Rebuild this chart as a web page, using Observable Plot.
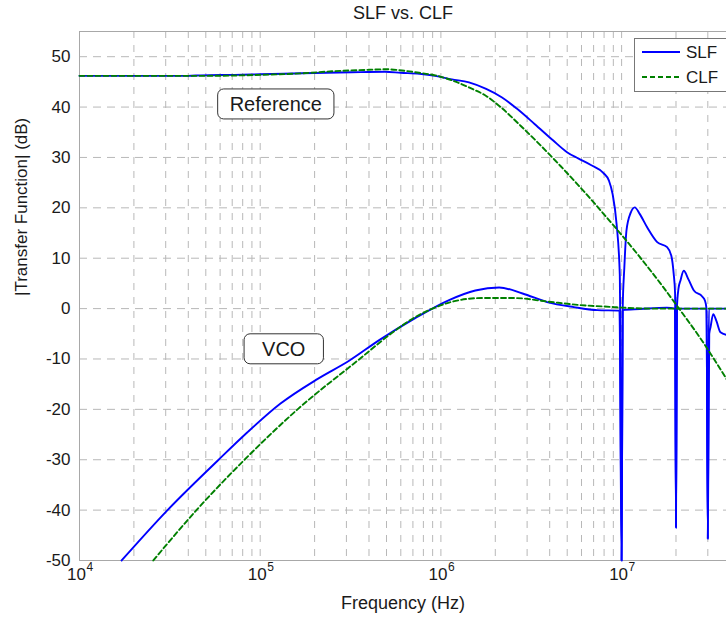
<!DOCTYPE html>
<html><head><meta charset="utf-8">
<script src="https://cdn.jsdelivr.net/npm/d3@7"></script>
<script src="https://cdn.jsdelivr.net/npm/@observablehq/plot@0.6"></script>
<style>
body{margin:0;background:#fff;}
#wrap{width:726px;height:622px;overflow:hidden;position:relative;background:#fff;}
</style></head><body><div id="wrap"></div>
<script>
// ---- data (frequency in Hz, magnitude in dB) ----
const refSlfFreq = [1.0e4,4.0e4,4.7e4,7.2e4,1.0e5,1.7e5,3.2e5,4.9e5,6.0e5,7.6e5,9.3e5,1.15e6,1.43e6,1.78e6,2.18e6,2.63e6,3.31e6,4.17e6,5.01e6,5.75e6,6.76e6,7.94e6,8.51e6,8.91e6,9.38e6,9.77e6,1.0e7,1.014e7,1.035e7,1.064e7,1.122e7,1.183e7,1.259e7,1.387e7,1.574e7,1.786e7,1.884e7,1.941e7,1.977e7,2.0e7,2.023e7,2.065e7,2.118e7,2.208e7,2.344e7,2.512e7,2.793e7,2.891e7,2.951e7,3.0e7,3.055e7,3.105e7,3.214e7,3.35e7,3.524e7,3.80e7];
const refSlfDb   = [46.2,46.2,46.3,46.4,46.5,46.7,46.9,47.0,46.8,46.6,46.2,45.5,44.9,43.6,41.9,39.7,36.6,33.4,31.0,29.8,28.5,26.9,25.4,22.8,16.8,6.8,-50,0,8,15.5,19.0,20.1,18.8,16.1,13.2,12.2,10.5,7,3,-43.5,0,4,5.6,7.5,5.8,3.6,2.4,1.6,0,-45.7,-5,-3.7,-1.1,-2.5,-4.7,-5.2];

const refClfFreq = [1.0e4,5.0e4,1.0e5,1.7e5,2.5e5,4.0e5,5.0e5,6.3e5,7.9e5,9.3e5,1.15e6,1.43e6,1.78e6,2.14e6,2.76e6,3.56e6,4.59e6,5.93e6,7.65e6,9.85e6,1.27e7,1.64e7,2.04e7,2.73e7,3.81e7];
const refClfDb   = [46.2,46.2,46.4,46.7,47.1,47.4,47.5,47.2,46.7,46.3,45.3,43.9,42.2,40.0,36.3,32.4,28.3,24.0,19.5,14.9,10.1,5.0,0.4,-5.9,-14.0];

const vcoSlfFreq = [1.71e4,3.07e4,5.81e4,8.47e4,1.29e5,2.07e5,3.12e5,4.58e5,7.13e5,1.11e6,1.55e6,2.10e6,2.83e6,3.87e6,5.44e6,7.33e6,9.73e6,1.0e7,1.014e7,1.259e7,1.778e7,1.972e7,2.0e7,2.028e7,2.512e7,2.951e7,3.0e7,3.04e7,3.80e7];
const vcoSlfDb   = [-50,-40.0,-30.2,-24.6,-18.9,-14.0,-10.3,-6.2,-2.0,1.7,3.6,4.2,3.0,1.3,0.3,-0.3,-0.4,-50,-0.3,-0.1,0.2,0,-43.5,0,0,0,-45.7,0,0];

const vcoClfFreq = [2.56e4,4.44e4,8.19e4,1.61e5,3.55e5,5.47e5,7.13e5,8.99e5,1.11e6,1.68e6,2.53e6,3.87e6,5.92e6,9.06e6,1.0e7,1.5e7,3.80e7];
const vcoClfDb   = [-50,-40.0,-30.0,-20.0,-10.0,-4.6,-1.8,0,1.2,2.1,2.1,1.4,0.7,0.3,0.2,0,0];

const annotLabels = ["Reference","VCO"];
const annotFreq   = [1.22e5, 1.35e5];
const annotDb     = [40.5, -8.1];

const seriesNames = ["SLF","CLF"];
const xDecades = [1e4,1e5,1e6,1e7];
const xMinor = [2,3,4,5,6,7,8,9].flatMap(m => [1e4,1e5,1e6,1e7].map(d => m*d));
const yTicks = [-50,-40,-30,-20,-10,0,10,20,30,40,50];
const titleText = "SLF vs. CLF";
const xLabel = "Frequency (Hz)";
const yLabel = "|Transfer Function| (dB)";

// ---- tables ----
const toRows = (f, v) => f.map((x, i) => ({f: x, db: v[i]}));
const refSlf = toRows(refSlfFreq, refSlfDb);
const refClf = toRows(refClfFreq, refClfDb);
const vcoSlf = toRows(vcoSlfFreq, vcoSlfDb);
const vcoClf = toRows(vcoClfFreq, vcoClfDb);
const annots = annotLabels.map((t, i) => ({label: t, f: annotFreq[i], db: annotDb[i]}));

const BLUE = "#0000ff", GREEN = "#008000", GRID = "#b8b8b8", FONT = "'Liberation Sans', Arial, Helvetica, sans-serif";
const gridV = xDecades.slice(1).concat(xMinor).filter(d => d < 8e7);

const chart = Plot.plot({
  width: 726, height: 622,
  marginTop: 31, marginBottom: 62, marginLeft: 79, marginRight: 0,
  x: {type: "log", domain: [1e4, 1e8], range: [79, 79 + 4 * 180.7], axis: null},
  y: {domain: [-50, 55], axis: null},
  style: {fontFamily: FONT, background: "white", color: "#1a1a1a", overflow: "hidden"},
  marks: [
    Plot.ruleX(gridV, {x: d => d, stroke: GRID, strokeWidth: 1, strokeDasharray: "7,7"}),
    Plot.ruleY(yTicks.slice(1), {y: d => d, stroke: GRID, strokeWidth: 1, strokeDasharray: "8,6"}),
    Plot.ruleY([55, -50], {y: d => d, stroke: "#a8a8a8", strokeWidth: 1}),
    Plot.ruleX([1e4], {x: d => d, stroke: "#a8a8a8", strokeWidth: 1}),
    Plot.line(refSlf, {x: "f", y: "db", stroke: BLUE, strokeWidth: 1.9, curve: "monotone-x"}),
    Plot.line(vcoSlf, {x: "f", y: "db", stroke: BLUE, strokeWidth: 1.9, curve: "monotone-x"}),
    Plot.line(refClf, {x: "f", y: "db", stroke: GREEN, strokeWidth: 1.9, strokeDasharray: "5,3", curve: "monotone-x"}),
    Plot.line(vcoClf, {x: "f", y: "db", stroke: GREEN, strokeWidth: 1.9, strokeDasharray: "5,3", curve: "monotone-x"}),
    Plot.text(yTicks, {y: d => d, frameAnchor: "left", text: d => String(d), dx: -9, textAnchor: "end", fontSize: 17}),
    Plot.text(xDecades, {x: d => d, frameAnchor: "bottom", text: () => "10", dx: -3, dy: 19, fontSize: 17}),
    Plot.text(xDecades, {x: d => d, frameAnchor: "bottom", text: d => String(Math.round(Math.log10(d))), dx: 7, dy: 10, textAnchor: "start", fontSize: 12}),
    Plot.text([xLabel], {frameAnchor: "bottom", text: d => d, dy: 48, fontSize: 18}),
    Plot.text([yLabel], {frameAnchor: "left", text: d => d, dx: -58, rotate: -90, fontSize: 17}),
    Plot.text([titleText], {frameAnchor: "top", text: d => d, dy: -25, fontSize: 18}),
    Plot.text(annots, {x: "f", y: "db", text: "label", fontSize: 20})
  ]
});
document.getElementById("wrap").appendChild(chart);

// ---- annotation boxes (rounded) ----
const svg = d3.select(chart);
const padX = {"Reference": 12, "VCO": 18};
svg.selectAll("text").filter(function() { return annotLabels.includes(this.textContent); })
  .each(function() {
    const node = this;
    const b = node.getBBox();
    const px = padX[node.textContent] || 12;
    const tr = node.getAttribute("transform");
    const r = d3.select(node.parentNode).insert("rect", () => node)
      .attr("x", b.x - px).attr("y", b.y - 4)
      .attr("width", b.width + 2 * px).attr("height", b.height + 8)
      .attr("rx", 6).attr("ry", 6)
      .attr("fill", "white").attr("stroke", "#333").attr("stroke-width", 1);
    if (tr) r.attr("transform", tr);
  });

// ---- legend ----
const lg = svg.append("g").attr("text-anchor", "start");
lg.append("rect").attr("x", 634.5).attr("y", 38.5).attr("width", 120).attr("height", 53)
  .attr("fill", "white").attr("stroke", "#777").attr("stroke-width", 1);
const legendStyles = [{stroke: BLUE, dash: null}, {stroke: GREEN, dash: "5,3"}];
seriesNames.forEach((name, i) => {
  const y = 52 + i * 25;
  lg.append("line").attr("x1", 642).attr("x2", 680).attr("y1", y).attr("y2", y)
    .attr("stroke", legendStyles[i].stroke).attr("stroke-width", 1.9)
    .attr("stroke-dasharray", legendStyles[i].dash);
  lg.append("text").attr("x", 686).attr("y", y).attr("dy", "0.35em").attr("text-anchor", "start")
    .attr("font-size", 17).attr("font-family", FONT).attr("fill", "#1a1a1a").text(name);
});
</script></body></html>
